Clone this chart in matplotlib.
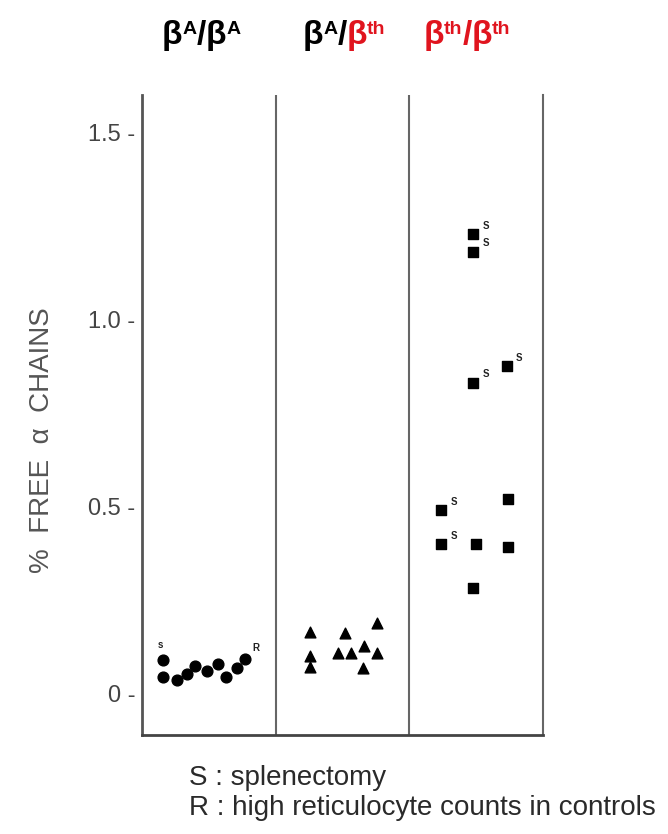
import matplotlib
matplotlib.use("Agg")
import matplotlib.pyplot as plt
from matplotlib.transforms import IdentityTransform

plt.rcParams['font.family'] = ['Liberation Sans', 'DejaVu Sans']

# values (x = position inside the 3 panels, 0..3)
normal_x = [0.16, 0.16, 0.26, 0.34, 0.40, 0.49, 0.57, 0.63, 0.71, 0.77]
normal_y = [0.088, 0.042, 0.035, 0.051, 0.073, 0.060, 0.079, 0.044, 0.066, 0.090]
normal_marks = ['S', '', '', '', '', '', '', '', '', 'R']

hetero_x = [1.26, 1.26, 1.26, 1.52, 1.47, 1.56, 1.66, 1.76, 1.76, 1.65]
hetero_y = [0.163, 0.099, 0.070, 0.160, 0.107, 0.107, 0.126, 0.187, 0.107, 0.067]

thal_x = [2.48, 2.48, 2.48, 2.73, 2.24, 2.24, 2.50, 2.48, 2.74, 2.74]
thal_y = [1.227, 1.180, 0.830, 0.874, 0.489, 0.398, 0.398, 0.280, 0.519, 0.390]
thal_marks = ['S', 'S', 'S', 'S', 'S', 'S', '', '', '', '']

ytick_values = [0, 0.5, 1.0, 1.5]
ytick_labels = ['0 -', '0.5 -', '1.0 -', '1.5 -']

# column titles: (text, colour, superscript?)
titles = [
    [('β', 'black', False), ('A', 'black', True), ('/', 'black', False),
     ('β', 'black', False), ('A', 'black', True)],
    [('β', 'black', False), ('A', 'black', True), ('/', 'black', False),
     ('β', '#e0141e', False), ('th', '#e0141e', True)],
    [('β', '#e0141e', False), ('th', '#e0141e', True), ('/', '#e0141e', False),
     ('β', '#e0141e', False), ('th', '#e0141e', True)],
]
title_centers = [201, 344, 467]

fig = plt.figure(figsize=(6.68, 8.34), dpi=100)
ax = fig.add_axes([142 / 668, 99 / 834, 401 / 668, 640 / 834])

ax.scatter(normal_x, normal_y, s=60, marker='o', color='black', zorder=3)
ax.scatter(hetero_x, hetero_y, s=60, marker='^', color='black', zorder=3)
ax.scatter(thal_x, thal_y, s=55, marker='s', color='black', zorder=3)

# little S / R letters next to points
for x, y, m in zip(normal_x, normal_y, normal_marks):
    if m == 'S':
        ax.annotate('s', (x, y), xytext=(-2, 9), textcoords='offset points',
                    fontsize=7, fontweight='bold', ha='center', color='#222222')
    elif m == 'R':
        ax.annotate('R', (x, y), xytext=(8, 6), textcoords='offset points',
                    fontsize=7, fontweight='bold', ha='center', color='#222222')
for x, y, m in zip(thal_x, thal_y, thal_marks):
    if m:
        ax.annotate(m, (x, y), xytext=(9, 6), textcoords='offset points',
                    fontsize=7, fontweight='bold', ha='center', va='center',
                    color='#222222')

ax.set_xlim(0, 3)
ax.set_ylim(-0.112, 1.599)
ax.set_xticks([])
ax.set_yticks(ytick_values)
ax.set_yticklabels(ytick_labels, fontsize=17, color='#444444')
ax.tick_params(axis='y', length=0, pad=5)

ax.spines['top'].set_visible(False)
ax.spines['left'].set_color('#555555')
ax.spines['left'].set_linewidth(2)
ax.spines['bottom'].set_color('#444444')
ax.spines['bottom'].set_linewidth(2)
ax.spines['right'].set_color('#666666')
ax.spines['right'].set_linewidth(1.5)
for xd in [1, 2]:
    ax.axvline(xd, color='#666666', lw=1.5)

fig.text(42 / 668, 1 - 440 / 834, '%  FREE  α  CHAINS', rotation=90,
         ha='center', va='center', fontsize=20, color='#555555')

# titles built piece by piece so superscripts and colours can be mixed
fig.canvas.draw()
renderer = fig.canvas.get_renderer()
baseline = 834 - 44
for pieces, cx in zip(titles, title_centers):
    made = []
    x = 0
    for s, c, sup in pieces:
        t = fig.text(x, baseline + (10 if sup else 0), s, color=c,
                     fontsize=14 if sup else 24, fontweight='bold',
                     transform=IdentityTransform(), va='baseline')
        w = t.get_window_extent(renderer).width
        made.append((t, x))
        x += w
    shift = cx - x / 2
    for t, x0 in made:
        t.set_x(x0 + shift)

fig.text(189 / 668, 1 - 785 / 834, 'S : splenectomy', fontsize=20,
         color='#2a2a2a', va='baseline')
fig.text(189 / 668, 1 - 815 / 834, 'R : high reticulocyte counts in controls',
         fontsize=20, color='#2a2a2a', va='baseline')

fig.savefig('out.png', dpi=100)
